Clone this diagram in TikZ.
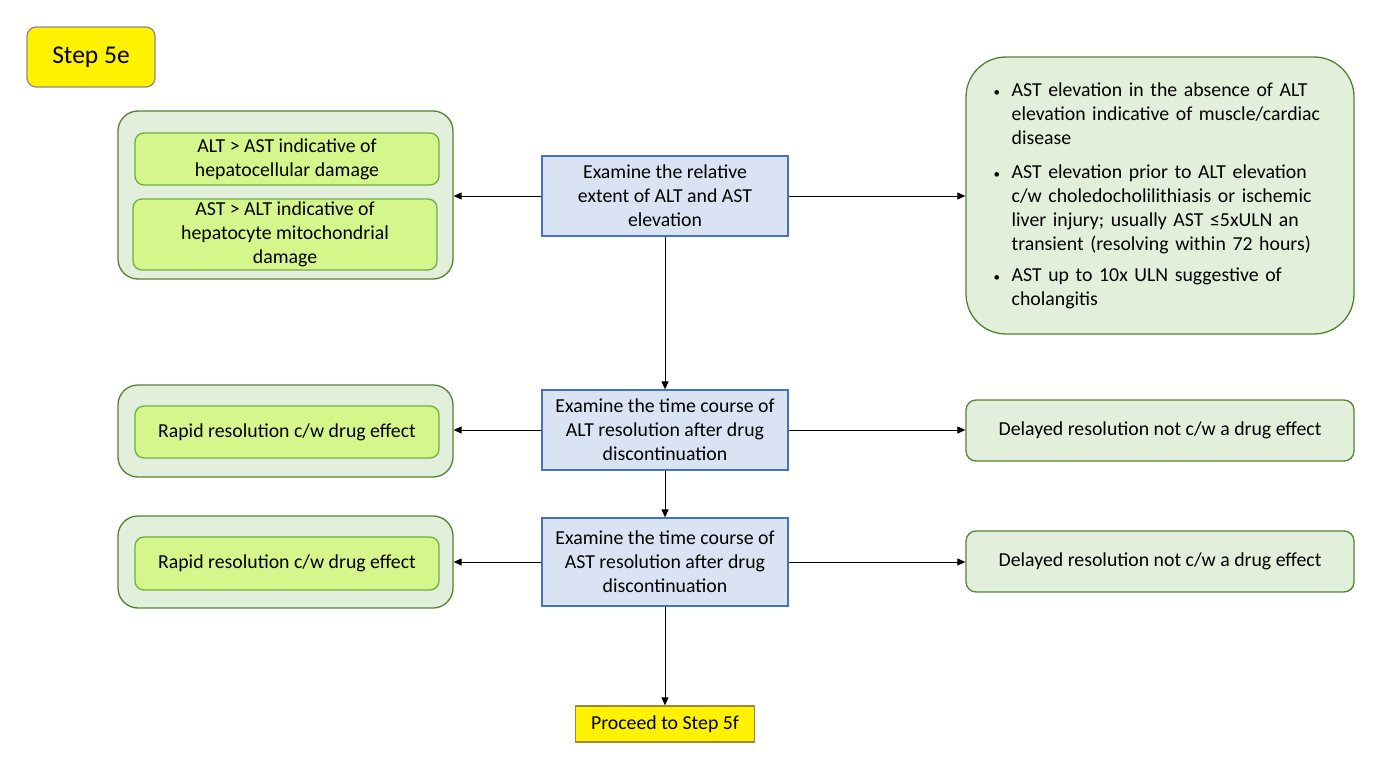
\documentclass[tikz,border=0pt]{standalone}
\usepackage{fontspec}
\setmainfont{Carlito}
\usetikzlibrary{arrows.meta}
\definecolor{grpfill}{HTML}{E2EFDA}
\definecolor{grpline}{HTML}{548235}
\definecolor{limefill}{HTML}{D5F68B}
\definecolor{limeline}{HTML}{70AD47}
\definecolor{bluefill}{HTML}{DAE3F3}
\definecolor{blueline}{HTML}{4472C4}
\definecolor{stepline}{HTML}{8C8C8C}
\definecolor{goline}{HTML}{A08536}
\newcommand{\bitem}[1]{\par\hangindent=18pt\hangafter=1\noindent\makebox[18pt][l]{\fontsize{13}{13}\selectfont\textbullet}#1\par}

\begin{document}
\begin{tikzpicture}[x=1pt,y=-1pt,line width=1.3pt,
    txt/.style={font=\fontsize{19.8}{24}\selectfont,align=center,inner sep=0pt},
    grp/.style={draw=grpline,fill=grpfill,rounded corners=20pt,minimum width=335pt,inner sep=0pt},
    lime/.style={txt,draw=limeline,fill=limefill,rounded corners=9pt,minimum width=304pt},
    exam/.style={txt,draw=blueline,fill=bluefill,minimum width=246pt},
    note/.style={txt,draw=grpline,fill=grpfill,rounded corners=10pt,minimum width=388pt},
    arr/.style={-{Triangle[length=8pt,width=7pt]},line width=1pt}]
  \useasboundingbox (0,0) rectangle (1380,768);
  % step label
  \node[txt,draw=stepline,fill=yellow,rounded corners=9pt,minimum width=128pt,minimum height=60pt,
    font=\fontsize{25.5}{30}\selectfont] (step) at (91,57) {Step 5e};
  % row 1
  \node[grp,minimum height=168pt] (grpA) at (285.5,195) {};
  \node[lime,minimum height=52pt] (altast) at (287,159) {ALT > AST indicative of\\hepatocellular damage};
  \node[lime,minimum height=71pt] (astalt) at (285,234.5) {AST > ALT indicative of\\hepatocyte mitochondrial\\damage};
  \node[exam,minimum height=80pt] (exA) at (665,196) {Examine the relative\\extent of ALT and AST\\elevation};
  \node[txt,draw=grpline,fill=grpfill,rounded corners=40pt,minimum width=388pt,minimum height=277pt] (astnote) at (1160,195.5) {};
  \node[font=\fontsize{19.8}{24}\selectfont,text width=360pt,inner sep=0pt,anchor=north west] (bullets) at (993,72) {%
    \bitem{AST elevation in the absence of ALT\newline elevation indicative of muscle/cardiac\newline disease}\vspace{10pt}
    \bitem{AST elevation prior to ALT elevation\newline c/w choledocholilithiasis or ischemic\newline liver injury; usually AST ≤5xULN an\newline transient (resolving within 72 hours)}\vspace{7pt}
    \bitem{AST up to 10x ULN suggestive of\newline cholangitis}};
  % row 2
  \node[grp,minimum height=92pt] (grpB) at (285.5,431) {};
  \node[lime,minimum height=52pt] (rapidB) at (287,432) {Rapid resolution c/w drug effect};
  \node[exam,minimum height=80pt] (exB) at (665,430) {Examine the time course of\\ALT resolution after drug\\discontinuation};
  \node[note,minimum height=61pt] (slowB) at (1160,430.5) {Delayed resolution not c/w a drug effect};
  % row 3
  \node[grp,minimum height=92pt] (grpC) at (285.5,562) {};
  \node[lime,minimum height=53pt] (rapidC) at (287,563.5) {Rapid resolution c/w drug effect};
  \node[exam,minimum height=88pt] (exC) at (665,562) {Examine the time course of\\AST resolution after drug\\discontinuation};
  \node[note,minimum height=61pt] (slowC) at (1160,561.5) {Delayed resolution not c/w a drug effect};
  % next step
  \node[txt,draw=goline,fill=yellow,minimum width=179pt,minimum height=36pt] (next) at (665,724) {Proceed to Step 5f};
  % arrows
  \draw[arr] (exA.west) -- (exA.west -| grpA.east);
  \draw[arr] (exA.east) -- (exA.east -| astnote.west);
  \draw[arr] (exA.south) -- (exB.north);
  \draw[arr] (exB.west) -- (exB.west -| grpB.east);
  \draw[arr] (exB.east) -- (exB.east -| slowB.west);
  \draw[arr] (exB.south) -- (exC.north);
  \draw[arr] (exC.west) -- (exC.west -| grpC.east);
  \draw[arr] (exC.east) -- (exC.east -| slowC.west);
  \draw[arr] (exC.south) -- (next.north);
\end{tikzpicture}
\end{document}
